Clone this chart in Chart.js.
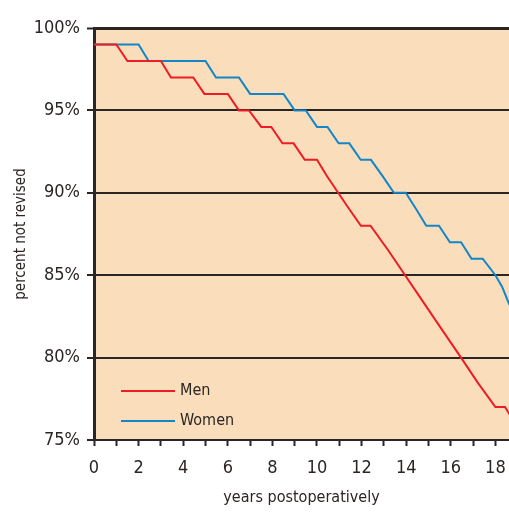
<!DOCTYPE html>
<html>
<head>
<meta charset="utf-8">
<script src="https://cdn.jsdelivr.net/npm/chart.js@4.4.1/dist/chart.umd.min.js"></script>
<style>
  html, body { margin: 0; padding: 0; background: #ffffff; }
  #wrap { width: 509px; height: 512px; }
</style>
</head>
<body>
<div id="wrap"><canvas id="myChart" width="509" height="512"></canvas></div>
<script>
// survival curves, years after operation vs percent not revised
var menYears = [0, 1.0, 1.5, 3.0, 3.45, 4.45, 4.95, 6.0, 6.5, 6.95, 7.5, 7.95, 8.45, 8.95, 9.45, 10.0, 10.45, 10.95, 11.45, 11.97, 12.4, 13.2, 13.95, 14.7, 15.45, 16.46, 17.2, 18.0, 18.43, 18.9];
var menValues = [99, 99, 98, 98, 97, 97, 96, 96, 95, 95, 94, 94, 93, 93, 92, 92, 91, 90, 89, 88, 88, 86.5, 85, 83.5, 82, 80, 78.5, 77, 77, 76];

var womenYears = [0, 2.0, 2.45, 5.0, 5.47, 6.5, 7.0, 8.5, 9.0, 9.5, 10.0, 10.47, 10.97, 11.45, 11.96, 12.42, 12.95, 13.45, 13.98, 14.45, 14.9, 15.47, 15.96, 16.46, 16.93, 17.43, 18.0, 18.3, 18.63];
var womenValues = [99, 99, 98, 98, 97, 97, 96, 96, 95, 95, 94, 94, 93, 93, 92, 92, 91, 90, 90, 89, 88, 88, 87, 87, 86, 86, 85, 84.3, 83.2];

var xTicks = [0, 1, 2, 3, 4, 5, 6, 7, 8, 9, 10, 11, 12, 13, 14, 15, 16, 17, 18];
var yTicks = [75, 80, 85, 90, 95, 100];

var fontName = "'DejaVu Sans Condensed', 'Liberation Sans Narrow', sans-serif";
var ink = "#2b2523";

function toPoints(xs, ys) {
    var pts = [];
    for (let i = 0; i < xs.length; i++) {
        pts.push({ x: xs[i], y: ys[i] });
    }
    return pts;
}

// peach fill behind the plot
var plotBackground = {
    id: "plotBackground",
    beforeDraw: function (chart) {
        var a = chart.chartArea;
        var ctx = chart.ctx;
        ctx.save();
        ctx.fillStyle = "#fadebb";
        ctx.fillRect(a.left, a.top, a.right - a.left, a.bottom - a.top);
        ctx.restore();
    }
};

// small legend in the lower left of the plot
var innerLegend = {
    id: "innerLegend",
    afterDraw: function (chart) {
        var ctx = chart.ctx;
        var a = chart.chartArea;
        ctx.save();
        ctx.font = "16px " + fontName;
        ctx.textBaseline = "middle";
        chart.data.datasets.forEach(function (ds, i) {
            var y = a.top + 363 + i * 30;
            ctx.strokeStyle = ds.borderColor;
            ctx.lineWidth = 2;
            ctx.beginPath();
            ctx.moveTo(a.left + 27, y);
            ctx.lineTo(a.left + 81, y);
            ctx.stroke();
            ctx.fillStyle = ink;
            ctx.fillText(ds.label, a.left + 86, y);
        });
        ctx.restore();
    }
};

new Chart("myChart", {
    type: "line",
    data: {
        datasets: [{
            label: "Men",
            data: toPoints(menYears, menValues),
            borderColor: "#ee1c25",
            borderWidth: 2,
            pointRadius: 0,
            tension: 0
        }, {
            label: "Women",
            data: toPoints(womenYears, womenValues),
            borderColor: "#1386c8",
            borderWidth: 2,
            pointRadius: 0,
            tension: 0
        }]
    },
    plugins: [plotBackground, innerLegend],
    options: {
        responsive: false,
        animation: false,
        layout: { padding: { top: 28, right: 0, left: 0, bottom: 0 } },
        plugins: {
            legend: { display: false },
            tooltip: { enabled: false }
        },
        scales: {
            x: {
                type: "linear",
                min: 0,
                max: 18.61,
                afterBuildTicks: function (axis) {
                    axis.ticks = xTicks.map(function (v) { return { value: v }; });
                },
                afterFit: function (axis) {
                    axis.height = 72;
                    axis.paddingRight = 0;
                },
                ticks: {
                    color: ink,
                    font: { family: fontName, size: 18 },
                    padding: 12,
                    maxRotation: 0,
                    autoSkip: false,
                    callback: function (v) { return v % 2 === 0 ? String(v) : ""; }
                },
                grid: {
                    drawOnChartArea: false,
                    drawTicks: true,
                    tickLength: 6,
                    tickWidth: 2,
                    tickColor: ink
                },
                border: { display: true, color: ink, width: 2 },
                title: {
                    display: true,
                    text: "years postoperatively",
                    color: ink,
                    font: { family: fontName, size: 16 },
                    padding: { top: 0, bottom: 5 }
                }
            },
            y: {
                min: 75,
                max: 100,
                afterBuildTicks: function (axis) {
                    axis.ticks = yTicks.map(function (v) { return { value: v }; });
                },
                afterFit: function (axis) { axis.width = 94; },
                ticks: {
                    color: ink,
                    font: { family: fontName, size: 18 },
                    padding: 7,
                    callback: function (v) { return v + "%"; }
                },
                grid: {
                    color: ink,
                    lineWidth: function (c) { return c.tick && c.tick.value === 100 ? 3 : 2; },
                    drawTicks: true,
                    tickLength: 7,
                    tickWidth: 2,
                    tickColor: ink
                },
                border: { display: true, color: ink, width: 3 },
                title: {
                    display: true,
                    text: "percent not revised",
                    color: ink,
                    font: { family: fontName, size: 15 },
                    padding: { top: 12, bottom: 0 }
                }
            }
        }
    }
});
</script>
</body>
</html>
